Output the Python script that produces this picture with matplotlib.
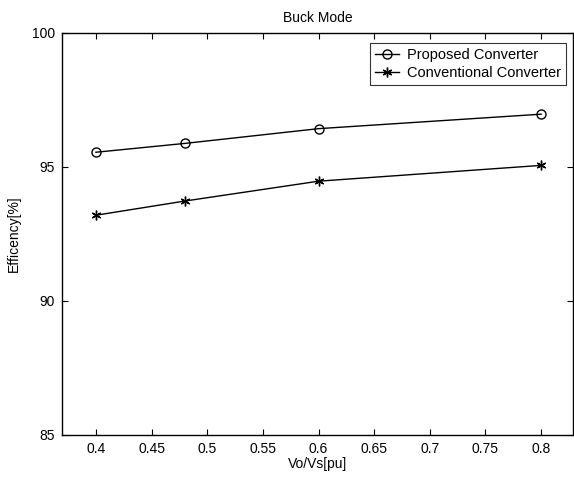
import matplotlib
matplotlib.use("Agg")
import matplotlib.pyplot as plt

plt.rcParams['font.family'] = ['Liberation Sans', 'DejaVu Sans']

x_vals = [0.4, 0.48, 0.6, 0.8]
proposed = [95.55, 95.88, 96.43, 96.97]
conventional = [93.2, 93.73, 94.47, 95.06]
x_ticks = [0.4, 0.45, 0.5, 0.55, 0.6, 0.65, 0.7, 0.75, 0.8]
x_ticklabels = ['0.4', '0.45', '0.5', '0.55', '0.6', '0.65', '0.7', '0.75', '0.8']
y_ticks = [85, 90, 95, 100]

fig = plt.figure(figsize=(5.74, 4.78), dpi=100)
ax = fig.add_axes([0.108, 0.090, 0.890, 0.841])

asterisk = (6, 2, 0)
ax.plot(x_vals, proposed, color='black', lw=1.0, marker='o', ms=6.5,
        mfc='none', mec='black', mew=1.0, label='Proposed Converter')
ax.plot(x_vals, conventional, color='black', lw=1.0, marker=asterisk, ms=7,
        mfc='black', mec='black', mew=1.0, label='Conventional Converter')

ax.set_xlim(0.3695, 0.8285)
ax.set_ylim(85, 100)
ax.set_xticks(x_ticks)
ax.set_xticklabels(x_ticklabels)
ax.set_yticks(y_ticks)
ax.tick_params(direction='in', top=True, right=True, labelsize=10, length=4, width=0.8, pad=5)
for s in ax.spines.values():
    s.set_linewidth(1.0)

ax.set_title('Buck Mode', fontsize=10, pad=8)
ax.set_xlabel('Vo/Vs[pu]', fontsize=10, labelpad=1)
ax.set_ylabel('Efficency[%]', fontsize=10, labelpad=8)

leg = ax.legend(loc='upper right', fontsize=10.5, frameon=True, fancybox=False,
                edgecolor='black', borderpad=0.35, handlelength=1.6,
                handletextpad=0.6, labelspacing=0.25, borderaxespad=0.3,
                bbox_to_anchor=(0.996, 0.985))
leg.get_frame().set_linewidth(0.8)

fig.savefig('out.png', dpi=100)
